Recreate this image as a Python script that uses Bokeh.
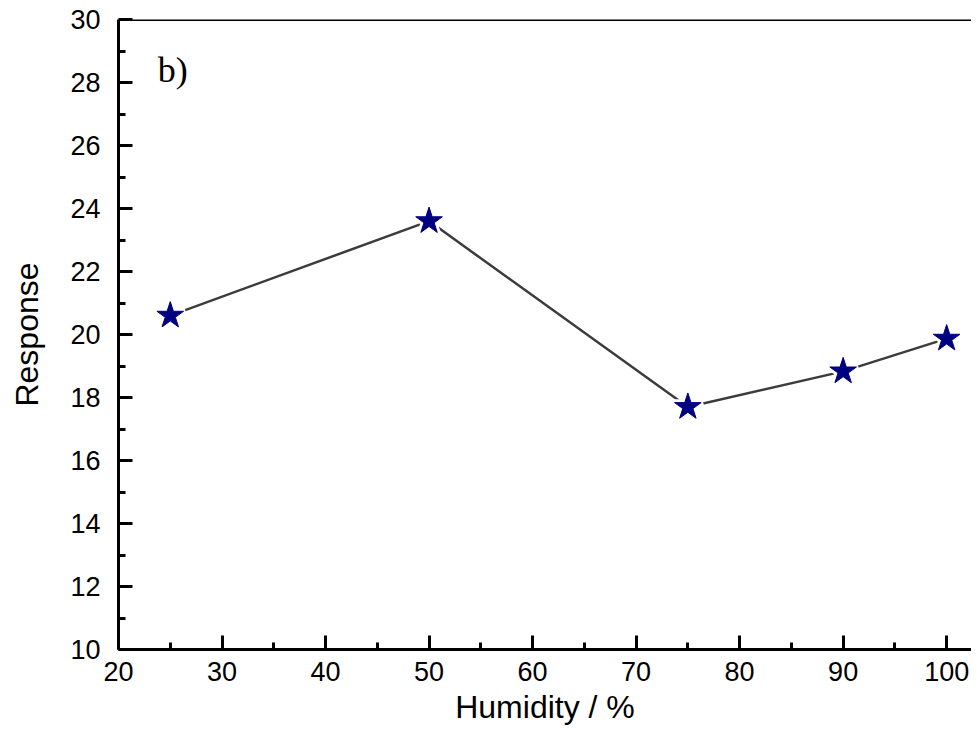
from bokeh.plotting import figure
from bokeh.models import Span, Label, FixedTicker, Range1d
from bokeh.embed import file_html
from bokeh.resources import INLINE

humidity = [25, 50, 75, 90, 100]
response = [20.6, 23.6, 17.7, 18.83, 19.87]
x_ticks = [20, 30, 40, 50, 60, 70, 80, 90, 100]
y_ticks = [10, 12, 14, 16, 18, 20, 22, 24, 26, 28, 30]

p = figure(width=971, height=735, output_backend="svg", toolbar_location=None,
           x_range=Range1d(20, 102.4), y_range=Range1d(10, 30),
           min_border_left=118, min_border_right=0, min_border_top=19, min_border_bottom=86)
p.outline_line_color = None
p.grid.grid_line_color = None
p.background_fill_color = "white"

FONT = "Liberation Sans"
for ax in (p.xaxis[0], p.yaxis[0]):
    ax.axis_line_width = 3
    ax.axis_line_color = "black"
    ax.major_tick_in = 14
    ax.major_tick_out = 0
    ax.minor_tick_in = 7
    ax.minor_tick_out = 0
    ax.major_tick_line_width = 3
    ax.minor_tick_line_width = 3
    ax.major_label_text_font = FONT
    ax.major_label_text_font_size = "27px"
    ax.major_label_text_color = "black"
    ax.axis_label_text_font = FONT
    ax.axis_label_text_font_size = "32px"
    ax.axis_label_text_font_style = "normal"
    ax.axis_label_text_color = "black"

p.xaxis.ticker = FixedTicker(ticks=x_ticks, minor_ticks=[v + 5 for v in x_ticks])
p.yaxis.ticker = FixedTicker(ticks=y_ticks, minor_ticks=[v + 1 for v in y_ticks])
p.xaxis.major_label_standoff = 12
p.yaxis.major_label_standoff = 18
p.xaxis.axis_label = "Humidity / %"
p.yaxis.axis_label = "Response"
p.xaxis.axis_label_standoff = 5
p.yaxis.axis_label_standoff = 22

p.add_layout(Span(location=30, dimension="width", line_color="black", line_width=3))

p.line(humidity, response, line_color="#3c3c3c", line_width=2.5)
p.scatter(humidity, response, marker="star", size=30, fill_color="white",
          line_color="white", line_width=6)
p.scatter(humidity, response, marker="star", size=28, fill_color="#000080",
          line_color="#000080", line_width=1)

p.add_layout(Label(x=23.8, y=28.4, text="b)", text_font="Liberation Serif",
                   text_font_size="36px", text_color="black", text_baseline="alphabetic"))

open("out.html", "w").write(file_html(p, INLINE))
